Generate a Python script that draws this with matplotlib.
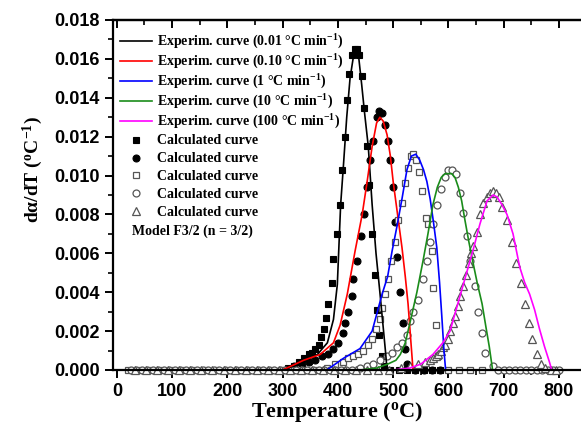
import matplotlib
matplotlib.use("Agg")
import matplotlib.pyplot as plt
from matplotlib.ticker import MultipleLocator, FormatStrFormatter, NullFormatter

plt.rcParams["mathtext.fontset"] = "custom"
plt.rcParams["mathtext.rm"] = "Liberation Serif:bold"
plt.rcParams["mathtext.bf"] = "Liberation Serif:bold"
plt.rcParams["mathtext.it"] = "Liberation Serif:bold"

# ---- experimental curves: temperature (°C) and dα/dT (1/°C) ----
exp_001_T = [20, 300, 338, 363, 381, 392, 399, 405, 410, 416, 422, 428, 433, 438,
             443, 448, 455, 462, 469, 476, 482, 486, 489, 800]
exp_001_v = [0, 0, 0.0004, 0.0008, 0.0014, 0.0026, 0.0044, 0.0085, 0.0105, 0.0130,
             0.0150, 0.0161, 0.0164, 0.0160, 0.0147, 0.0133, 0.0115, 0.0085, 0.0060,
             0.0040, 0.0022, 0.0010, 0, 0]

exp_010_T = [20, 300, 338, 368, 392, 404, 417, 431, 444, 453, 462, 470, 476, 482,
             489, 495, 500, 508, 516, 522, 527, 532, 536, 800]
exp_010_v = [0, 0, 0.0005, 0.0008, 0.0014, 0.0023, 0.0039, 0.0061, 0.0080, 0.0097,
             0.0115, 0.0127, 0.0130, 0.0128, 0.0121, 0.0110, 0.0097, 0.0080, 0.0063,
             0.0048, 0.0034, 0.0015, 0, 0]

exp_1_T = [20, 380, 410, 440, 462, 480, 490, 498, 507, 516, 525, 533, 541, 548,
           555, 561, 567, 573, 579, 584, 588, 592, 595, 800]
exp_1_v = [0, 0, 0.0006, 0.0011, 0.0020, 0.0039, 0.0048, 0.0061, 0.0074, 0.0088,
           0.0103, 0.0110, 0.0111, 0.0108, 0.0103, 0.0097, 0.0088, 0.0076, 0.0063,
           0.0045, 0.0028, 0.0010, 0, 0]

exp_10_T = [20, 440, 470, 490, 505, 513, 522, 531, 543, 554, 563, 572, 580, 587,
            594, 600, 606, 612, 618, 624, 630, 637, 644, 652, 661, 668, 674, 680, 800]
exp_10_v = [0, 0, 0.0001, 0.0003, 0.0005, 0.0008, 0.0014, 0.0025, 0.0040, 0.0056,
            0.0070, 0.0085, 0.0094, 0.0099, 0.0101, 0.0101, 0.0101, 0.0099, 0.0094,
            0.0087, 0.0077, 0.0066, 0.0056, 0.0045, 0.0034, 0.0022, 0.0012, 0, 0]

exp_100_T = [20, 500, 530, 550, 572, 590, 603, 618, 633, 645, 657, 670, 681, 688,
             697, 706, 717, 729, 738, 747, 756, 765, 774, 783, 787, 800]
exp_100_v = [0, 0, 0.0001, 0.0003, 0.0008, 0.0014, 0.0020, 0.0035, 0.0050, 0.0062,
             0.0075, 0.0087, 0.0090, 0.0089, 0.0085, 0.0080, 0.0070, 0.0053, 0.0045,
             0.0039, 0.0031, 0.0021, 0.0012, 0.0004, 0, 0]

# ---- calculated curves (model F3/2) ----
calc_001_T = [300, 310, 320, 330, 338, 347, 354, 359, 365, 370, 374, 379, 383, 389,
              392, 398, 403, 408, 412, 416, 421, 426, 431, 435, 439, 443, 447, 452,
              457, 462, 467, 471, 475, 479, 483, 495, 510, 525, 540, 555, 570, 585]
calc_001_v = [0, 0.0001, 0.0002, 0.0004, 0.0006, 0.0008, 0.0009, 0.0011, 0.0013,
              0.0017, 0.0021, 0.0027, 0.0034, 0.0045, 0.0057, 0.0070, 0.0085, 0.0103,
              0.0120, 0.0139, 0.0152, 0.0162, 0.0165, 0.0165, 0.0162, 0.0151, 0.0135,
              0.0115, 0.0095, 0.0070, 0.0049, 0.0031, 0.0018, 0.0007, 0.0002, 0, 0,
              0, 0, 0, 0, 0]

calc_010_T = [320, 335, 347, 359, 372, 383, 392, 401, 409, 413, 419, 426, 428, 435,
              442, 447, 452, 458, 464, 471, 475, 480, 485, 490, 495, 499, 503, 507,
              512, 517, 521, 525, 540, 555, 570, 585]
calc_010_v = [0.0002, 0.0003, 0.0004, 0.0005, 0.0007, 0.0008, 0.0011, 0.0014, 0.0019,
              0.0024, 0.0030, 0.0038, 0.0047, 0.0056, 0.0069, 0.0080, 0.0094, 0.0108,
              0.0118, 0.0130, 0.0133, 0.0132, 0.0126, 0.0118, 0.0108, 0.0094, 0.0076,
              0.0058, 0.0040, 0.0024, 0.0011, 0.0003, 0, 0, 0, 0]

calc_1_T = [20, 40, 60, 80, 100, 120, 140, 160, 180, 200, 220, 240, 260, 280, 300,
            320, 340, 360, 380, 395, 410, 419, 428, 437, 446, 455, 462, 469, 476,
            480, 486, 491, 496, 503, 509, 516, 522, 527, 532, 536, 541, 547, 552,
            559, 563, 570, 572, 577, 581, 600, 620, 640, 660]
calc_1_v = [0] * 18 + [0.0001, 0.0003, 0.0004, 0.0006, 0.0007, 0.0008, 0.0010,
            0.0013, 0.0016, 0.0021, 0.0026, 0.0032, 0.0039, 0.0047, 0.0056, 0.0066,
            0.0077, 0.0086, 0.0096, 0.0104, 0.0110, 0.0111, 0.0108, 0.0102, 0.0092,
            0.0078, 0.0075, 0.0061, 0.0042, 0.0023, 0.0007, 0, 0, 0, 0]

calc_10_T = [25, 35, 45, 55, 65, 75, 85, 95, 105, 115, 125, 135, 145, 155, 165, 175,
             185, 195, 205, 215, 225, 235, 245, 255, 265, 275, 285, 295, 305, 315,
             325, 335, 345, 355, 365, 375, 385, 395, 405, 415, 425, 440, 452, 464,
             477, 489, 498, 507, 516, 525, 531, 536, 545, 554, 561, 566, 572, 579,
             587, 594, 599, 606, 614, 621, 626, 633, 639, 648, 653, 660, 667, 680,
             690, 700, 710, 720, 730, 740, 750, 760, 770, 780, 790, 800]
calc_10_v = [0] * 41 + [0.0001, 0.0002, 0.0003, 0.0005, 0.0007, 0.0009, 0.0012,
             0.0014, 0.0018, 0.0025, 0.0030, 0.0036, 0.0047, 0.0056, 0.0066, 0.0075,
             0.0085, 0.0093, 0.0099, 0.0103, 0.0103, 0.0101, 0.0091, 0.0081, 0.0069,
             0.0056, 0.0043, 0.0030, 0.0019, 0.0009, 0.0002, 0, 0, 0, 0, 0, 0, 0,
             0, 0, 0, 0, 0]

calc_100_T = [33, 53, 73, 93, 113, 133, 153, 173, 193, 213, 233, 253, 273, 293, 313,
              333, 353, 373, 393, 413, 433, 453, 473, 493, 515, 530, 545, 558, 566,
              572, 577, 581, 586, 590, 594, 599, 603, 608, 612, 617, 621, 627, 632,
              637, 641, 645, 651, 657, 663, 669, 675, 681, 686, 691, 697, 706, 715,
              722, 731, 738, 746, 752, 760, 768, 775, 785, 795]
calc_100_v = [0] * 24 + [0.0001, 0.0002, 0.0003, 0.0004, 0.0005, 0.0006, 0.0007,
              0.0008, 0.0010, 0.0012, 0.0013, 0.0016, 0.0020, 0.0024, 0.0028, 0.0033,
              0.0038, 0.0043, 0.0049, 0.0055, 0.0060, 0.0064, 0.0071, 0.0080, 0.0086,
              0.0089, 0.0091, 0.0092, 0.0091, 0.0089, 0.0084, 0.0077, 0.0066, 0.0055,
              0.0045, 0.0034, 0.0024, 0.0016, 0.0008, 0.0003, 0.0001, 0, 0]

exp_labels = [
    r"Experim. curve (0.01 °C min$^{\mathrm{-1}}$)",
    r"Experim. curve (0.10 °C min$^{\mathrm{-1}}$)",
    r"Experim. curve (1 °C min$^{\mathrm{-1}}$)",
    r"Experim. curve (10 °C min$^{\mathrm{-1}}$)",
    r"Experim. curve (100 °C min$^{\mathrm{-1}}$)",
]
exp_colors = ["#000000", "#ff0000", "#0000ff", "#1a8c1a", "#ff00ff"]
calc_label = "Calculated curve"
model_note = "Model F3/2 (n = 3/2)"

W, H = 581, 429
fig = plt.figure(figsize=(W / 100, H / 100), dpi=100)
ax_l, ax_r, ax_t, ax_b = 113, 581, 20, 370
ax = fig.add_axes([ax_l / W, 1 - ax_b / H, (ax_r - ax_l) / W, (ax_b - ax_t) / H])


def frac(px, py):
    """Pixel position in the figure -> axes fraction."""
    return (px - ax_l) / (ax_r - ax_l), (ax_b - py) / (ax_b - ax_t)


exp_sets = [(exp_001_T, exp_001_v), (exp_010_T, exp_010_v), (exp_1_T, exp_1_v),
            (exp_10_T, exp_10_v), (exp_100_T, exp_100_v)]
calc_sets = [(calc_001_T, calc_001_v), (calc_010_T, calc_010_v), (calc_1_T, calc_1_v),
             (calc_10_T, calc_10_v), (calc_100_T, calc_100_v)]
calc_styles = [
    dict(marker="s", ms=4.6, mfc="black", mec="black", mew=0.8),
    dict(marker="o", ms=5.0, mfc="black", mec="black", mew=0.8),
    dict(marker="s", ms=4.6, mfc="white", mec="#555555", mew=0.9),
    dict(marker="o", ms=5.0, mfc="white", mec="#555555", mew=0.9),
    dict(marker="^", ms=5.4, mfc="white", mec="#555555", mew=0.9),
]

for (T, v), st in zip(calc_sets, calc_styles):
    ax.plot(T, v, linestyle="none", zorder=2, clip_on=False, **st)
for (T, v), c in zip(exp_sets, exp_colors):
    ax.plot(T, v, color=c, lw=1.2, zorder=3)

ax.set_xlim(-7, 840)
ax.set_ylim(0, 0.018)
ax.xaxis.set_major_locator(MultipleLocator(100))
ax.xaxis.set_minor_locator(MultipleLocator(50))
ax.yaxis.set_major_locator(MultipleLocator(0.002))
ax.yaxis.set_minor_locator(MultipleLocator(0.001))
ax.yaxis.set_major_formatter(FormatStrFormatter("%.3f"))

for side in ("left", "bottom", "top"):
    ax.spines[side].set_linewidth(1.6)
    ax.spines[side].set_zorder(5)
ax.spines["right"].set_visible(False)

ax.tick_params(axis="both", which="major", direction="out", length=6, width=1.4,
               labelsize=13, top=False)
ax.tick_params(axis="both", which="minor", direction="out", length=3.5, width=1.2,
               top=False)
for t in ax.get_xticklabels() + ax.get_yticklabels():
    t.set_fontfamily("Liberation Sans")
    t.set_fontweight("bold")

# inward ticks along the top edge
top = ax.twiny()
top.set_xlim(ax.get_xlim())
top.xaxis.set_major_locator(MultipleLocator(100))
top.xaxis.set_minor_locator(MultipleLocator(50))
top.xaxis.set_major_formatter(NullFormatter())
top.tick_params(axis="x", which="major", direction="in", length=6, width=1.4,
                top=True, bottom=False, labeltop=False, labelbottom=False)
top.tick_params(axis="x", which="minor", direction="in", length=3.5, width=1.2,
                top=True, bottom=False)
for side in ("left", "right", "bottom"):
    top.spines[side].set_visible(False)
top.spines["top"].set_linewidth(1.6)

ax.set_xlabel(r"Temperature ($^{\mathrm{o}}$C)", fontfamily="Liberation Serif",
              fontweight="bold", fontsize=16)
ax.xaxis.set_label_coords(*frac(337, 400))
ax.set_ylabel(r"d$\alpha$/dT ($^{\mathrm{o}}$C$^{\mathrm{-1}}$)",
              fontfamily="Liberation Serif", fontweight="bold", fontsize=14)
ax.yaxis.set_label_coords(*frac(45, 170))

# legend, drawn row by row
row_y = [41, 61, 81, 101, 121, 140, 158, 175, 193, 211]
line_x0, line_x1, text_x = 120, 152, 157
font = dict(fontfamily="Liberation Serif", fontweight="bold", fontsize=10)
for i, y in enumerate(row_y):
    fx0, fy = frac(line_x0, y)
    fx1, _ = frac(line_x1, y)
    if i < 5:
        ax.plot([fx0, fx1], [fy, fy], color=exp_colors[i], lw=1.2,
                transform=ax.transAxes, clip_on=False)
        label = exp_labels[i]
    else:
        ax.plot([(fx0 + fx1) / 2], [fy], linestyle="none", transform=ax.transAxes,
                clip_on=False, **calc_styles[i - 5])
        label = calc_label
    tx, ty = frac(text_x, y + 4.5)
    ax.text(tx, ty, label, transform=ax.transAxes, va="baseline", ha="left", **font)

mx, my = frac(132, 234.5)
ax.text(mx, my, model_note, transform=ax.transAxes, va="baseline", ha="left", **font)

fig.savefig("out.png", dpi=100)
